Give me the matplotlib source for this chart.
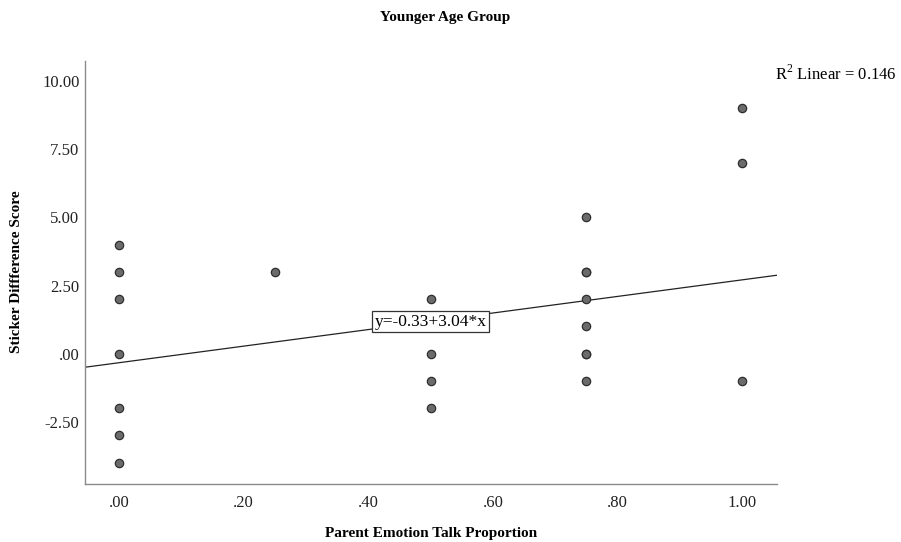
import numpy as np
import matplotlib
matplotlib.use('Agg')
import matplotlib.pyplot as plt

plt.rcParams['font.family'] = ['Liberation Serif', 'DejaVu Serif']
plt.rcParams['mathtext.fontset'] = 'custom'
plt.rcParams['mathtext.rm'] = 'Liberation Serif'

# data (duplicates where dots look darker)
emotion_talk = [0.00, 0.00, 0.00, 0.00, 0.00, 0.00, 0.00,
                0.25,
                0.50, 0.50, 0.50, 0.50,
                0.75, 0.75, 0.75, 0.75, 0.75, 0.75, 0.75, 0.75,
                1.00, 1.00, 1.00]
sticker_diff = [4, 3, 2, 0, -2, -3, -4,
                3,
                2, 0, -1, -2,
                5, 3, 3, 2, 1, 0, 0, -1,
                9, 7, -1]

# fit reported on the chart
intercept = -0.33
slope = 3.04
r2 = 0.146

xticks = [0.0, 0.2, 0.4, 0.6, 0.8, 1.0]
xticklabels = ['.00', '.20', '.40', '.60', '.80', '1.00']
yticks = [-2.5, 0.0, 2.5, 5.0, 7.5, 10.0]
yticklabels = ['-2.50', '.00', '2.50', '5.00', '7.50', '10.00']

fig = plt.figure(figsize=(9.01, 5.42), dpi=100)
ax = fig.add_axes([85/901, 1 - 484/542, (777-85)/901, (484-61)/542])

xlim = (-0.0546, 1.056)
ylim = (-4.78, 10.74)

ax.scatter(emotion_talk, sticker_diff, s=36, facecolor='#6b6b6b',
           edgecolor='#2e2e2e', linewidth=0.9, zorder=3)

xl = np.array(xlim)
ax.plot(xl, intercept + slope*xl, color='#222222', linewidth=0.9, zorder=2)

ax.set_xlim(*xlim)
ax.set_ylim(*ylim)
ax.set_xticks(xticks)
ax.set_xticklabels(xticklabels)
ax.set_yticks(yticks)
ax.set_yticklabels(yticklabels)
ax.tick_params(length=0, labelsize=12, colors='#222222')
ax.tick_params(axis='x', pad=8)
ax.tick_params(axis='y', pad=4)

for s in ['top', 'right']:
    ax.spines[s].set_visible(False)
for s in ['left', 'bottom']:
    ax.spines[s].set_color('#8a8a8a')
    ax.spines[s].set_linewidth(1.0)

ax.text(0.50, 1.18, 'y=-0.33+3.04*x', fontsize=12.5, ha='center', va='center',
        bbox=dict(boxstyle='square,pad=0.12', facecolor='white',
                  edgecolor='#333333', linewidth=0.9), zorder=4)

fig.text(897/901, 1 - 74/542, r'R$^{2}$ Linear = 0.146', fontsize=12,
         ha='right', va='center')
fig.text(445/901, 1 - 17/542, 'Younger Age Group', fontsize=11,
         fontweight='bold', ha='center', va='center')
fig.text(431/901, 1 - 533/542, 'Parent Emotion Talk Proportion', fontsize=11,
         fontweight='bold', ha='center', va='center')
fig.text(17/901, 1 - 272/542, 'Sticker Diffference Score', fontsize=11,
         fontweight='bold', ha='center', va='center', rotation=90)

fig.savefig('out.png', dpi=100)
